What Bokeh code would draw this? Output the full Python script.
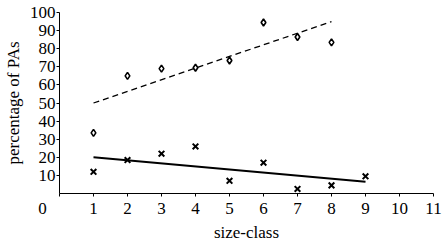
from bokeh.plotting import figure
from bokeh.models import Range1d, FixedTicker
from bokeh.embed import file_html
from bokeh.resources import INLINE

size_class = [1, 2, 3, 4, 5, 6, 7, 8]
pct_diamond = [33.5, 65, 69, 69.5, 73.5, 94.5, 86.5, 83.5]
size_class_x = [1, 2, 3, 4, 5, 6, 7, 8, 9]
pct_cross = [12, 18.5, 22, 26, 7, 17, 2.5, 4.5, 9.5]
fit_dash_x = [1, 8]
fit_dash_y = [50, 95]
fit_solid_x = [1, 9]
fit_solid_y = [20, 6.5]
x_ticks = [0, 1, 2, 3, 4, 5, 6, 7, 8, 9, 10, 11]
y_ticks = [10, 20, 30, 40, 50, 60, 70, 80, 90, 100]

FONT = "Liberation Serif"

p = figure(width=442, height=244, output_backend="svg", toolbar_location=None,
           x_range=Range1d(0, 11), y_range=Range1d(0, 100),
           min_border_left=53, min_border_right=9, min_border_top=12, min_border_bottom=44)
p.xgrid.visible = False
p.ygrid.visible = False
p.outline_line_color = None

for ax in (p.xaxis[0], p.yaxis[0]):
    ax.axis_line_color = "black"
    ax.axis_line_width = 1
    ax.major_tick_line_color = "black"
    ax.major_tick_out = 3
    ax.major_tick_in = 0
    ax.minor_tick_line_color = None
    ax.major_label_text_font = FONT
    ax.major_label_text_font_size = "17px"
    ax.major_label_text_color = "black"
    ax.axis_label_text_font = FONT
    ax.axis_label_text_font_size = "17px"
    ax.axis_label_text_font_style = "normal"
    ax.axis_label_text_color = "black"

p.xaxis.ticker = FixedTicker(ticks=x_ticks)
p.yaxis.ticker = FixedTicker(ticks=y_ticks)
# origin label sits left of the origin; trailing no-break spaces shift the centred "0"
p.xaxis.major_label_overrides = {0: "0" + "\u00a0" * 8}
p.xaxis.axis_label = "size-class"
p.yaxis.axis_label = "percentage of PAs"
p.xaxis.major_label_standoff = 2
p.yaxis.major_label_standoff = 1
p.xaxis.axis_label_standoff = 2
p.yaxis.axis_label_standoff = 4

p.line(fit_dash_x, fit_dash_y, line_color="black", line_width=1.3, line_dash="6 4")
p.line(fit_solid_x, fit_solid_y, line_color="black", line_width=2)
p.scatter(size_class, pct_diamond, marker="diamond", size=7, fill_color=None,
          line_color="black", line_width=1.6)
p.scatter(size_class_x, pct_cross, marker="x", size=8, line_color="black", line_width=2)

open("out.html", "w").write(file_html(p, INLINE))
